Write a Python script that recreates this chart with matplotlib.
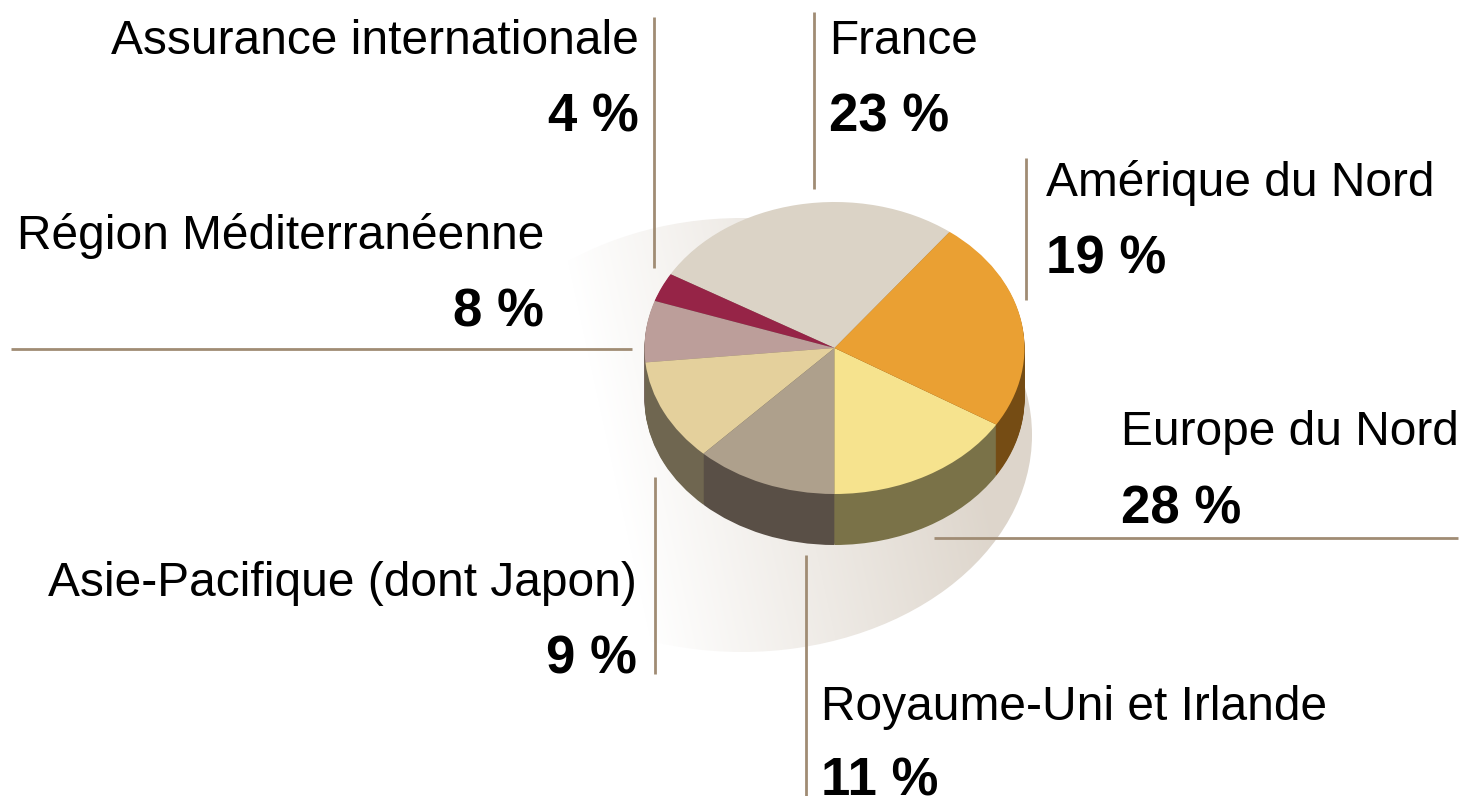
import numpy as np
import matplotlib
matplotlib.use('Agg')
import matplotlib.pyplot as plt
from matplotlib.patches import Ellipse

plt.rcParams['font.family'] = ['Liberation Sans', 'DejaVu Sans']

regions = ['France', 'Assurance internationale', 'Région Méditerranéenne',
           'Asie-Pacifique (dont Japon)', 'Royaume-Uni et Irlande',
           'Europe du Nord', 'Amérique du Nord']
percents = [23, 4, 8, 9, 11, 28, 19]
# slice sizes as drawn in the picture (they do not follow the labels)
drawn_shares = [26.9, 3.2, 6.8, 11.3, 12.1, 16.2, 23.4]
top_colors = ['#dbd3c6', '#962447', '#bc9e9a', '#e4d09c', '#aea08c', '#f6e38e', '#eaa033']
side_colors = ['#8a8070', '#5a1a2c', '#7a6a60', '#6f6650', '#594f46', '#7a7248', '#754c14']

W, H = 1462, 796
fig = plt.figure(figsize=(W / 100, H / 100), dpi=100)

bg = fig.add_axes([0, 0, 1, 1])
bg.set_xlim(0, W)
bg.set_ylim(H, 0)
bg.axis('off')

# soft shadow behind the pie, fading to white on the left
xx, yy = np.meshgrid(np.arange(440, 1040), np.arange(210, 660))
t = np.clip(0.24 + 0.0027 * (xx - 740) - 0.00059 * (yy - 645), 0, 1)
img = np.ones(xx.shape + (3,))
for i, c in enumerate((221, 213, 203)):
    img[..., i] = (255 + (c - 255) * t) / 255
shadow = Ellipse((742, 435), 580, 434, fc='none', ec='none')
bg.add_patch(shadow)
im = bg.imshow(img, extent=(440, 1040, 660, 210), aspect='auto', zorder=1)
im.set_clip_path(shadow)
bg.set_xlim(0, W)
bg.set_ylim(H, 0)

# leader lines
line_col = '#a08c74'
lines = [((654, 654), (17, 268)), ((814, 814), (12, 189)), ((1026, 1026), (158, 300)),
         ((11, 632), (349, 349)), ((934, 1458), (538, 538)),
         ((655, 655), (477, 674)), ((806, 806), (555, 796))]
for lx, ly in lines:
    bg.plot(lx, ly, color=line_col, lw=2, solid_capstyle='butt', zorder=2)

# pie, squashed in its own axes
cx, cy, rx, ry, depth = 834.5, 348, 190, 146, 51
ax = fig.add_axes([(cx - rx) / W, 1 - (cy + ry + depth) / H, 2 * rx / W, (2 * ry + depth) / H])
for d in range(depth, 0, -1):
    ax.pie(drawn_shares, colors=side_colors, startangle=52.7, radius=1,
           center=(0, -d / ry), wedgeprops={'lw': 0.5, 'edgecolor': 'none'}, normalize=True)
ax.pie(drawn_shares, colors=top_colors, startangle=52.7, radius=1,
       wedgeprops={'lw': 0}, normalize=True)
ax.set_aspect('auto')
ax.set_xlim(-1, 1)
ax.set_ylim(-1 - depth / ry, 1)
ax.patch.set_alpha(0)

# labels: x, name baseline, percent baseline, alignment
label_pos = [(829, 54, 131, 'left'), (639, 54, 131, 'right'), (544, 249, 326, 'right'),
             (637, 596, 673, 'right'), (821, 720, 796, 'left'), (1121, 445, 523, 'left'),
             (1046, 196, 274, 'left')]
for name, pct, (x, y1, y2, ha) in zip(regions, percents, label_pos):
    fig.text(x / W, 1 - y1 / H, name, fontsize=34.5, ha=ha, va='baseline', color='black')
    fig.text(x / W, 1 - y2 / H, f'{pct} %', fontsize=38, fontweight='bold', ha=ha,
             va='baseline', color='black')

fig.savefig('out.png', dpi=100)
